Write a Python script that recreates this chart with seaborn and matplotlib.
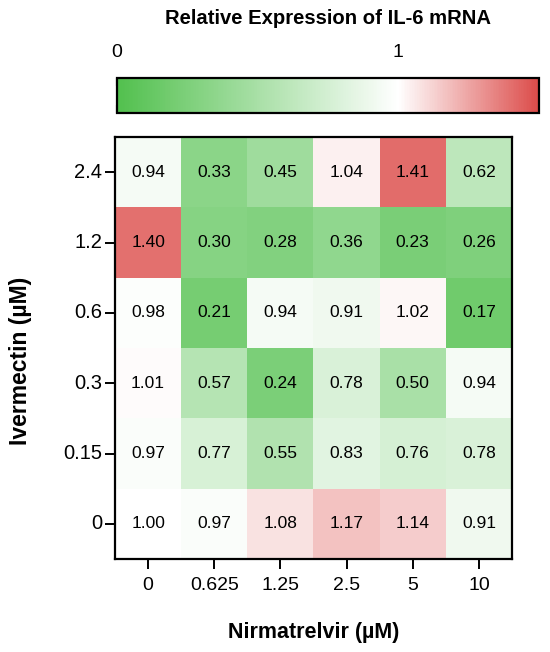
import numpy as np
import pandas as pd
import matplotlib
matplotlib.use("Agg")
import matplotlib.pyplot as plt
import seaborn as sns
from matplotlib.colors import LinearSegmentedColormap

# dados
nirmatrelvir = ["0", "0.625", "1.25", "2.5", "5", "10"]
ivermectin = ["2.4", "1.2", "0.6", "0.3", "0.15", "0"]
row_24 = [0.94, 0.33, 0.45, 1.04, 1.41, 0.62]
row_12 = [1.40, 0.30, 0.28, 0.36, 0.23, 0.26]
row_06 = [0.98, 0.21, 0.94, 0.91, 1.02, 0.17]
row_03 = [1.01, 0.57, 0.24, 0.78, 0.50, 0.94]
row_015 = [0.97, 0.77, 0.55, 0.83, 0.76, 0.78]
row_0 = [1.00, 0.97, 1.08, 1.17, 1.14, 0.91]

df = pd.DataFrame([row_24, row_12, row_06, row_03, row_015, row_0],
                  index=ivermectin, columns=nirmatrelvir)

sns.set_theme(style="white")
plt.rcParams['font.family'] = ['Liberation Sans', 'DejaVu Sans']
plt.rcParams.update({'text.color': 'black', 'axes.labelcolor': 'black',
                     'xtick.color': 'black', 'ytick.color': 'black'})

cmap = LinearSegmentedColormap.from_list(
    "gwr", [(0, "#52c04e"), (1 / 1.5, "#ffffff"), (1, "#dc4c4a")])

fig = plt.figure(figsize=(5.5, 6.52), dpi=100)
W, H = 550, 652
ax = fig.add_axes([115 / W, (H - 559) / H, (512 - 115) / W, (559 - 137) / H])
cax = fig.add_axes([117 / W, (H - 113) / H, (539 - 117) / W, 35 / H])

sns.heatmap(df, ax=ax, cmap=cmap, vmin=0, vmax=1.5, annot=True, fmt=".2f",
            annot_kws={'fontsize': 12.5, 'color': 'black'},
            cbar_ax=cax, cbar_kws={'orientation': 'horizontal'})

for s in ax.spines.values():
    s.set_visible(True)
    s.set_color('black')
    s.set_linewidth(1.6)

ax.tick_params(axis='both', which='major', length=7, width=1.4, color='black',
               labelsize=14, pad=2, left=True, bottom=True, labelcolor='black')
ax.tick_params(axis='y', labelsize=14.5)
ax.set_yticklabels(ivermectin, rotation=0)
ax.set_xticklabels(nirmatrelvir, rotation=0)
ax.tick_params(axis='x', pad=6)
ax.set_xlabel('Nirmatrelvir (µM)', fontsize=15.5, fontweight='bold', labelpad=20)
ax.set_ylabel('Ivermectin (µM)', fontsize=16.5, fontweight='bold')
ax.yaxis.set_label_coords(-0.21, 0.469)

# colorbar no topo
cbar = ax.collections[0].colorbar
cbar.outline.set_edgecolor('black')
cbar.outline.set_linewidth(1.6)
cax.xaxis.set_ticks_position('both')
cax.xaxis.set_label_position('top')
cbar.set_ticks([0, 1])
cax.tick_params(axis='x', direction='in', length=6, width=1.5, color='black',
                labeltop=True, labelbottom=False, labelsize=14, pad=12,
                labelcolor='black')
fig.text(328 / W, 1 - 18 / H, 'Relative Expression of IL-6 mRNA',
         ha='center', va='center', fontsize=14.6, fontweight='bold')

fig.savefig('out.png', dpi=100)
